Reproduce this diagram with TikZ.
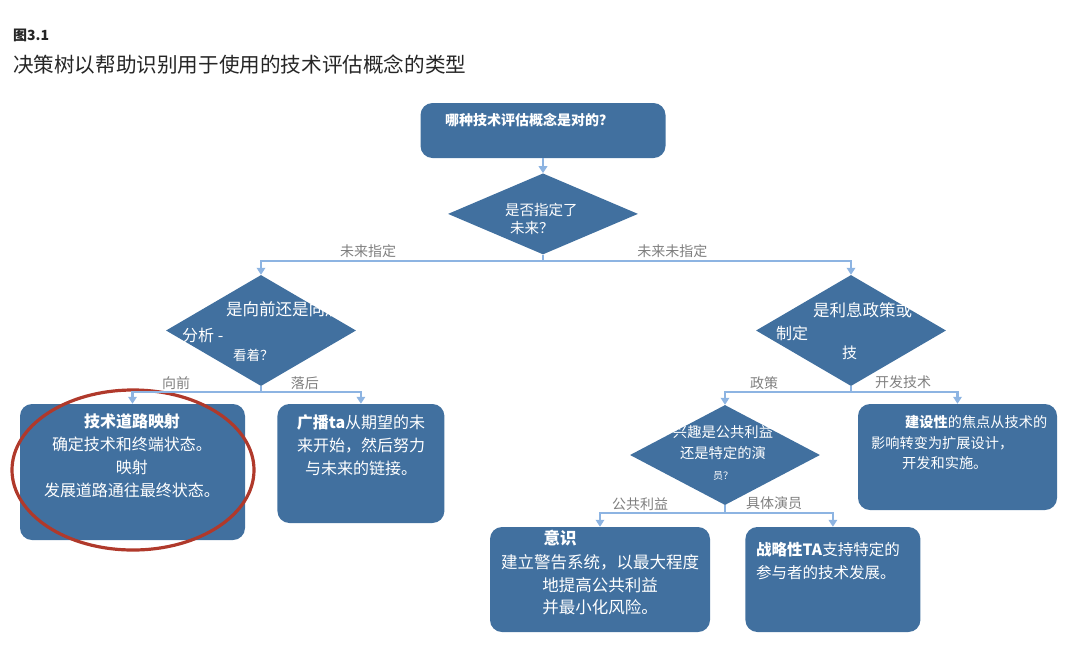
\documentclass[tikz,border=0pt]{standalone}
\usepackage{fontspec}
\newfontfamily\cjk{Noto Sans CJK SC}
\usetikzlibrary{shapes.geometric, arrows.meta, positioning}
\definecolor{Box}{HTML}{41709F}
\definecolor{Link}{HTML}{8DB4E2}
\definecolor{Tag}{HTML}{7F7F7F}
\definecolor{Ring}{HTML}{B0392B}
\definecolor{Head}{HTML}{262626}
\newcommand{\fsz}[2][]{\fontsize{#2}{#2}\selectfont}

\begin{document}
\begin{tikzpicture}[
        x=1pt, y=-1pt,
        card/.style={rectangle, rounded corners=12pt, fill=Box, inner sep=0pt},
        query/.style={diamond, fill=Box, inner sep=0pt, minimum width=190pt},
        words/.style={text=white, align=center, inner sep=0pt},
        link/.style={draw=Link, line width=2.7pt},
        arrow/.style={link, -{Triangle[length=7pt, width=8.5pt]}},
        tag/.style={text=Tag, font=\cjk\fsz{14}, inner sep=1.5pt}
    ]
    \useasboundingbox (0,0) rectangle (1080,649);

    % heading
    \node[anchor=west, inner sep=0pt, text=Head, font=\cjk\bfseries\fsz{14}] (fig) at (13,35) {图3.1};
    \node[anchor=west, inner sep=0pt, text=Head, font=\cjk\fsz{20.6}] (ttl) at (13,65) {决策树以帮助识别用于使用的技术评估概念的类型};

    % boxes and questions
    \node[card, minimum width=245pt, minimum height=55pt] (ask) at (543,130.5) {};
    \node[query, minimum height=81pt, below=15pt of ask] (fut) {};
    \node[query, minimum height=111pt] (fb) at (261,330.5) {};
    \node[query, minimum height=111pt] (pol) at (851,330.5) {};
    \node[query, minimum height=100pt] (act) at (725,455) {};

    \node[card, minimum width=225pt, minimum height=136pt] (trm) at (132.5,472) {};
    \node[card, minimum width=167pt, minimum height=119pt, right=32pt of trm.north east, anchor=north west] (bta) {};
    \node[card, minimum width=220pt, minimum height=105pt] (awr) at (600,579.5) {};
    \node[card, minimum width=175pt, minimum height=105pt, right=35pt of awr.north east, anchor=north west] (sta) {};
    \node[card, minimum width=199pt, minimum height=106pt] (cta) at (957.5,457) {};

    \node[ellipse, draw=Ring, line width=3.2pt, minimum width=242pt, minimum height=160pt] (hl) at (133,470) {};

    % texts
    \node[words, anchor=west, font=\cjk\bfseries\fsz{14}] (asktxt) at (445,120) {哪种技术评估概念是对的？};
    \node[words, anchor=west, align=left, font=\cjk\fontsize{14.5}{18.5}\selectfont] (futtxt) at (505,219) {是否指定了\\\hspace*{5pt}未来？};
    \node[words, anchor=west, font=\cjk\fsz{16.5}] (fbtxt) at (226,309) {是向前还是向后};
    \node[words, anchor=west, font=\cjk\fsz{16}] (fbtxtb) at (182,335) {分析 -};
    \node[words, anchor=west, font=\cjk\fsz{13.5}] (fbtxtc) at (233,355) {看着？};
    \node[words, anchor=west, font=\cjk\fsz{16.5}] (poltxt) at (813,310) {是利息政策或};
    \node[words, anchor=west, font=\cjk\fsz{16}] (poltxtb) at (776,333) {制定};
    \node[words, anchor=west, font=\cjk\fsz{15}] (poltxtc) at (842,353) {技};
    \node[words, font=\cjk\fontsize{14.3}{21}\selectfont] (acttxt) at (723,453) {兴趣是公共利益\\还是特定的演\\{\fsz{10}员？}};

    \node[words, font=\cjk\fontsize{16}{23}\selectfont] (trmtxt) at (132,456) {\textbf{技术道路映射}\\确定技术和终端状态。\\映射\\发展道路通往最终状态。};
    \node[words, font=\cjk\fontsize{16}{23}\selectfont] (btatxt) at (361,445) {\textbf{广播ta}从期望的未\\来开始，然后努力\\与未来的链接。};
    \node[words, font=\cjk\bfseries\fsz{16.5}] (awrhead) at (560,538) {意识};
    \node[words, font=\cjk\fontsize{16.5}{22.5}\selectfont] (awrtxt) at (600,585) {建立警告系统，以最大程度\\地提高公共利益\\并最小化风险。};
    \node[words, anchor=west, align=left, font=\cjk\fontsize{15.5}{23}\selectfont] (statxt) at (756,560.5) {\textbf{战略性TA}支持特定的\\参与者的技术发展。};
    \node[words, anchor=west, align=left, font=\cjk\fontsize{14.2}{20.5}\selectfont] (ctatxt) at (871,443) {\hspace*{34pt}\textbf{建设性}的焦点从技术的\\影响转变为扩展设计，\\\hspace*{31pt}开发和实施。};

    % connectors
    \coordinate (j1) at (543,261);
    \coordinate (j2) at (261,392);
    \coordinate (j3) at (851,392);
    \coordinate (j4) at (725,513);

    \draw[arrow] (ask) -- (fut);
    \draw[link] (fut.south) -- (j1);
    \draw[arrow] (j1) -| node[tag, above, pos=.31] (lfix) {未来指定} (fb.north);
    \draw[arrow] (j1) -| node[tag, above, pos=.21] (lopen) {未来未指定} (pol.north);
    \draw[link] (fb.south) -- (j2);
    \draw[arrow] (j2) -| node[tag, above, pos=.33] (lfwd) {向前} (trm.north);
    \draw[arrow] (j2) -| node[tag, above, pos=.22] (lback) {落后} (bta.north);
    \draw[link] (pol.south) -- (j3);
    \draw[arrow] (j3) -| node[tag, above, pos=.345] (lpol) {政策} (act.north);
    \draw[arrow] (j3) -| node[tag, above, pos=.245] (ltech) {开发技术} (cta.north);
    \draw[link] (act.south) -- (j4);
    \draw[arrow] (j4) -| node[tag, above, pos=.34] (lpub) {公共利益} (awr.north);
    \draw[arrow] (j4) -| node[tag, above, pos=.228] (lact) {具体演员} (sta.north);
\end{tikzpicture}
\end{document}
